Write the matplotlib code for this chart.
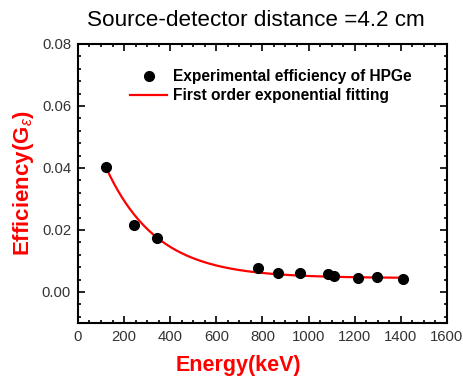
import numpy as np
import matplotlib
matplotlib.use("Agg")
import matplotlib.pyplot as plt
from matplotlib.ticker import MultipleLocator, FormatStrFormatter

plt.rcParams['font.family'] = ['Liberation Sans', 'DejaVu Sans']
plt.rcParams['mathtext.fontset'] = 'custom'
plt.rcParams['mathtext.rm'] = 'Liberation Sans'
plt.rcParams['mathtext.bf'] = 'Liberation Sans:bold'
plt.rcParams['mathtext.it'] = 'Liberation Sans:italic'

# Data
energy_kev = [122, 245, 344, 779, 867, 964, 1086, 1112, 1213, 1299, 1408]
efficiency = [0.0403, 0.0216, 0.0174, 0.0078, 0.0061, 0.0061, 0.0057, 0.0053, 0.0044, 0.0047, 0.0043]

# First order exponential fit parameters y = y0 + A*exp(-x/t)
fit_y0 = 0.0045
fit_A = 0.0620
fit_t = 220.0
fit_xmin, fit_xmax = 122, 1408

fig = plt.figure(figsize=(4.64, 3.76), dpi=100)
ax = fig.add_axes([0.168, 0.141, 0.795, 0.742])

xf = np.linspace(fit_xmin, fit_xmax, 300)
yf = fit_y0 + fit_A * np.exp(-xf / fit_t)

ax.plot(energy_kev, efficiency, 'o', color='black', markersize=7,
        label='Experimental efficiency of HPGe', zorder=3)
ax.plot(xf, yf, '-', color='red', linewidth=1.6,
        label='First order exponential fitting', zorder=2)

ax.set_xlim(0, 1600)
ax.set_ylim(-0.01, 0.08)
ax.xaxis.set_major_locator(MultipleLocator(200))
ax.xaxis.set_minor_locator(MultipleLocator(50))
ax.yaxis.set_major_locator(MultipleLocator(0.02))
ax.yaxis.set_minor_locator(MultipleLocator(0.004))
ax.yaxis.set_major_formatter(FormatStrFormatter('%.2f'))

for s in ax.spines.values():
    s.set_linewidth(1.5)
ax.tick_params(which='both', direction='in', top=True, right=True,
               labelsize=10.7, labelcolor='#333333', width=1.2)
ax.tick_params(which='major', length=5, pad=5)
ax.tick_params(which='minor', length=2.5)

ax.set_xlabel('Energy(keV)', color='red', fontsize=15.5, fontweight='bold')
ax.xaxis.set_label_coords(0.434, -0.115, transform=ax.transAxes)
ax.xaxis.label.set_va('top')
ax.set_ylabel(r'Efficiency(G$_{\varepsilon}$)', color='red', fontsize=16,
              fontweight='bold', labelpad=4)
ax.set_title('Source-detector distance =4.2 cm', fontsize=16.2, pad=13, x=0.482)

leg = ax.legend(loc='upper left', bbox_to_anchor=(0.141, 0.909), frameon=False,
                prop={'weight': 'bold', 'size': 11.2}, handlelength=2.4,
                handletextpad=0.35, labelspacing=0.25, borderaxespad=0, borderpad=0)

fig.savefig('out.png', dpi=100)
